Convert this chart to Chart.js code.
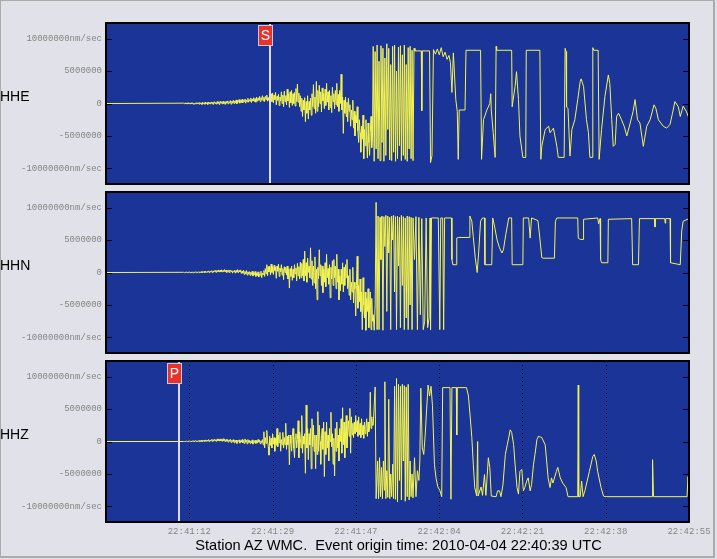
<!DOCTYPE html>
<html>
<head>
<meta charset="utf-8">
<script src="https://cdn.jsdelivr.net/npm/chart.js@4.4.1/dist/chart.umd.min.js"></script>
<style>
  html, body { margin: 0; padding: 0; background: #e1e1e9; }
  #page { position: relative; width: 717px; height: 559px; background: #e1e1e9; overflow: hidden; }
  #frame { position: absolute; left: 0; top: 0; width: 715px; height: 558px; box-sizing: border-box;
           border-top: 1px solid #ababab; border-left: 1px solid #ababab;
           border-right: 2px solid #ababab; border-bottom: 2px solid #ababab; }
  canvas { position: absolute; left: 0; }
  .chan { position: absolute; left: 0; font: 14px "Liberation Sans", Arial, sans-serif; color: #000; }
  #title { position: absolute; left: 0; width: 797px; top: 537px; text-align: center;
           font: 14.6px "Liberation Sans", Arial, sans-serif; color: #000; white-space: pre; }
</style>
</head>
<body>
<div id="page">
  <div id="frame"></div>
  <canvas id="cHHE" width="717" height="173" style="top:17px"></canvas>
  <canvas id="cHHN" width="717" height="173" style="top:186px"></canvas>
  <canvas id="cHHZ" width="717" height="183" style="top:355px"></canvas>
  <div class="chan" style="top:88px">HHE</div>
  <div class="chan" style="top:257px">HHN</div>
  <div class="chan" style="top:426px">HHZ</div>
  <div id="title">Station AZ WMC.  Event origin time: 2010-04-04 22:40:39 UTC</div>
</div>
<script>
// time in seconds after 22:40:55, amplitude in millions of nm/sec
var channels = ['HHE', 'HHN', 'HHZ'];
var yTickValues = [-10, -5, 0, 5, 10];
var yTickLabels = ['-10000000nm/sec', '-5000000', '0', '5000000', '10000000nm/sec'];
var xTickValues = [120 / 7, 240 / 7, 360 / 7, 480 / 7, 600 / 7, 720 / 7, 120];
var xTickLabels = ['22:41:12', '22:41:29', '22:41:47', '22:42:04', '22:42:21', '22:42:38', '22:42:55'];
var picks = { HHE: [{ name: 'S', t: 33.8 }], HHN: [], HHZ: [{ name: 'P', t: 15.0 }] };

// early part of each trace: samples every 0.15 s from 16 s (flat zero before that)
var noiseStart = 16;
var noiseStep = 0.15;

var hheNoise = [
  0.05,-0.05,0.1,-0.08,0.06,-0.1,0.12,-0.04,0.08,-0.1,
  0.1,-0.06,0.12,-0.1,0.05,-0.12,0.1,-0.05,0.14,-0.08,
  0.12,-0.1,0.15,-0.05,0.1,-0.15,0.18,-0.02,0.12,-0.12,
  0.2,-0.05,0.15,-0.15,0.22,0.0,0.18,-0.1,0.25,-0.05,
  0.2,-0.15,0.28,0.02,0.15,-0.12,0.3,0.0,0.22,-0.18,
  0.32,0.05,0.2,-0.1,0.35,0.0,0.25,-0.15,0.3,0.05,
  0.4,-0.05,0.3,0.1,0.45,-0.1,0.35,0.05,0.5,0.0,
  0.4,0.1,0.55,-0.05,0.45,0.2,0.6,0.05,0.5,0.15,
  0.65,0.1,0.5,0.3,0.7,0.05,0.55,0.25,0.8,0.2,
  0.6,0.35,0.85,0.15,0.7,0.4,0.9,0.3,0.75,0.2,
  1.0,0.35,0.8,0.5,1.1,0.3,0.9,0.55,1.2,0.4,
  0.95,0.3,1.1,0.6,1.3,0.35,0.9,0.5,1.2,0.2,
  1.5,0.3,1.6,0.1,1.3,0.6,1.7,-0.2,1.1,0.5,
  1.4,-0.3,1.0,0.4,1.8,0.0,1.3,-0.5,1.9,0.3,
  1.2,-0.2,2.2,0.4,1.5,-0.6,1.8,0.1,2.0,-0.3,
  1.5,0.0,1.7,-0.4,2.3,0.3,3.0,0.2,1.6,-0.5,
  1.2,-1.2,0.8,-2.0,0.5,-1.0,0.9,-2.8,0.3,-1.5,
  1.2,-2.4,0.3,-1.0,0.8,-1.8,1.5,-0.5,2.9,-0.8,
  1.0,-1.5,3.4,-1.2,2.0,-0.5,2.8,0.0,1.8,-1.3,
  2.4,0.4,1.5,-0.8,2.2,-0.3,3.1,0.2,1.8,-1.0,
  2.0,-0.6,1.2,-1.4,2.5,0.3,1.5,-0.8,2.0,-0.2,
  3.1,-0.5,1.4,-1.2,2.0,0.0,4.5,-1.0,1.0,-4.6,
  0.5,-1.5,1.0,-2.0,0.2,-2.8,0.8,-1.2,-0.2,-3.5,
  -1.0,-2.5,0.5,-3.8,-1.2,-5.0,-1.8,-3.0,-0.5,-4.2,
  -6.0,-2.5,-4.5,-7.5,-3.5,-5.5,-1.8,-8.5,-4.0,-6.5,
  -2.5,-5.5,-8.4,-3.0,-6.0,-8.0,-4.5,-2.0,-6.8,-5.0];

var hhnNoise = [
  0.03,-0.03,0.05,-0.02,0.06,-0.04,0.08,0.0,0.06,-0.05,
  0.08,-0.02,0.1,-0.05,0.08,0.0,0.12,-0.04,0.1,-0.02,
  0.12,-0.03,0.1,0.0,0.15,-0.05,0.12,0.02,0.18,-0.03,
  0.2,0.0,0.15,0.05,0.25,-0.02,0.2,0.08,0.28,0.0,
  0.25,0.05,0.3,0.1,0.35,0.0,0.28,0.12,0.4,0.05,
  0.35,0.1,0.42,0.05,0.3,0.15,0.45,0.1,0.35,0.0,
  0.3,0.1,0.4,-0.05,0.35,0.15,0.3,-0.1,0.25,0.1,
  0.35,-0.1,0.3,0.05,0.45,-0.05,0.3,0.1,0.4,-0.15,
  0.2,-0.1,0.35,-0.3,0.15,-0.2,0.3,-0.4,0.1,-0.25,
  0.15,-0.45,0.05,-0.3,0.2,-0.55,0.0,-0.35,0.15,-0.6,
  -0.1,-0.5,0.1,-0.7,-0.2,-0.4,0.2,-0.8,-0.1,-0.3,
  0.3,-0.6,0.6,-0.2,1.2,-0.5,0.9,0.1,1.0,-0.4,
  1.3,0.0,0.9,-0.3,1.1,0.3,0.8,-0.9,1.0,0.2,
  1.3,-0.6,0.7,0.1,1.2,-0.4,0.6,-1.1,0.9,0.0,
  0.8,-0.4,1.0,-1.0,0.5,-2.4,0.6,-0.6,1.0,-1.2,
  0.5,-0.8,1.2,-0.2,0.7,-1.3,1.4,-0.5,0.9,-1.0,
  1.6,-0.8,1.4,-0.5,2.0,-1.3,3.3,-0.5,1.5,-1.5,
  2.2,0.0,1.0,-0.8,3.8,-1.0,1.8,-2.0,1.0,-1.6,
  2.4,-2.5,0.5,-4.2,0.8,-1.0,3.5,-0.5,1.2,-2.0,
  1.0,-3.1,0.5,-1.5,1.5,-2.2,2.8,-0.8,0.6,-1.8,
  1.2,-3.9,0.8,-1.0,1.8,-2.0,2.0,-0.8,1.0,-2.5,
  2.8,-1.5,0.5,-4.2,-0.5,-2.8,0.5,-1.8,1.5,-3.0,
  0.8,-2.0,1.2,-0.8,2.0,-2.5,-0.5,-3.5,0.5,-4.2,
  -1.5,-3.0,0.8,-4.7,-1.5,-2.5,-6.7,-2.0,2.5,-5.5,
  -2.0,-4.5,-1.0,-6.0,-3.0,-8.8,-0.8,-5.0,-7.0,-3.0,
  -8.9,-4.0,-6.0,-2.5,-8.5,-5.0,-3.0,-8.8,-4.0,-7.5];

var hhzNoise = [
  0.0,0.0,0.0,0.0,0.05,-0.03,0.08,-0.02,0.1,0.0,
  0.08,-0.04,0.1,0.0,0.12,-0.05,0.15,0.0,0.1,-0.05,
  0.15,-0.02,0.18,0.0,0.2,-0.05,0.15,0.05,0.22,0.0,
  0.25,0.02,0.2,0.05,0.3,0.0,0.22,0.08,0.32,0.02,
  0.3,0.05,0.35,0.1,0.28,0.0,0.4,0.1,0.35,0.05,
  0.4,0.1,0.3,0.0,0.42,0.12,0.35,-0.05,0.3,0.05,
  0.3,-0.1,0.25,0.05,0.35,-0.15,0.2,0.0,0.3,-0.2,
  0.25,-0.1,0.2,-0.3,0.15,0.0,0.25,-0.25,0.1,-0.1,
  0.3,-0.2,0.15,-0.3,0.4,-0.1,0.2,-0.35,0.3,-0.15,
  0.2,-0.3,0.1,-0.2,0.25,-0.4,0.05,-0.15,0.2,-0.3,
  0.15,-0.25,0.3,-0.1,0.2,-0.35,0.1,-0.2,0.3,-0.5,
  1.5,-1.0,0.6,-0.3,1.7,0.2,-0.8,-2.1,0.8,-0.6,
  0.5,-1.0,1.2,-0.4,0.6,-1.5,0.5,-0.6,2.0,-0.8,
  1.0,-0.2,1.4,-1.5,0.3,-0.5,1.4,-1.0,0.6,-0.5,
  2.8,-1.2,0.8,-0.5,1.0,-3.6,1.0,-0.3,-1.5,0.8,
  2.0,-1.0,-2.5,0.6,1.2,-1.0,0.3,3.2,-2.5,1.5,
  0.5,-1.0,4.0,-1.8,0.8,-0.4,1.2,-4.9,5.6,-1.0,
  2.0,-2.8,1.2,-0.5,2.0,-4.2,3.5,-0.8,2.5,-1.5,
  1.0,-4.2,1.0,-2.0,4.6,-1.5,2.5,0.0,-3.5,0.5,
  2.0,-1.2,3.0,-5.4,1.5,-2.0,3.0,-1.0,1.0,-3.0,
  2.0,0.0,4.5,-0.8,1.2,-3.5,0.5,-5.3,2.0,-1.5,
  3.0,-1.0,1.0,-3.0,2.0,0.0,3.5,-1.8,5.2,-0.5,
  3.0,-2.5,1.0,4.0,-1.0,1.5,3.2,0.8,5.1,-1.8,
  3.8,1.0,2.8,0.6,3.0,1.2,4.0,1.5,3.2,0.8,
  3.8,1.0,2.8,0.6,3.5,1.0,2.5,0.5,3.0,1.2,
  2.0,3.5,0.8,3.0,1.5,2.2,7.6,2.0,3.8,2.5];

// later part of each trace as [time, value] pairs (clipped and long-period motion)
var hheTail = [[55.0,8.8],[55.2,-8.9],[55.4,8.0],[55.6,-7.0],[55.8,9.0],[56.0,-8.5],[56.2,6.5],[56.4,-8.8],[56.6,8.9],[56.8,-6.0],
  [57.0,8.5],[57.2,-8.9],[57.4,7.0],[57.6,-8.0],[57.8,9.2],[58.0,-4.0],[58.2,8.5],[58.4,-8.7],[58.6,6.0],[58.8,-8.8],[59.0,8.8],
  [59.2,-7.5],[59.4,9.0],[59.6,-8.9],[59.8,5.0],[60.0,-8.5],[60.2,8.7],[60.4,-6.5],[60.6,8.9],[60.8,-8.8],[61.0,7.5],[61.2,-8.0],
  [61.4,9.0],[61.6,-8.6],[61.8,6.0],[62.0,-8.9],[62.2,8.6],[62.4,-7.0],[62.6,8.8],[62.8,-8.5],[63.0,8.2],[63.2,-8.8],[63.4,8.5],
  [63.6,8.1],[64.9,8.1],[65.0,-1.1],[65.1,8.1],[66.6,8.1],[66.8,-9.1],[67.1,-8.0],[67.4,8.3],[67.8,7.6],[68.2,8.4],[68.6,7.5],
  [69.0,8.6],[69.4,7.2],[69.8,7.9],[70.2,6.8],[70.6,7.4],[70.9,6.3],[71.2,1.7],[71.5,7.8],[72.0,0.6],[72.3,-1.2],[72.5,-8.6],
  [72.7,-1.0],[73.9,-1.0],[74.1,8.2],[77.1,8.2],[77.3,-8.6],[77.7,-2.5],[78.4,-1.0],[79.0,0.0],[79.2,1.5],[79.3,-1.0],[79.7,-4.5],
  [80.1,-8.3],[80.3,8.8],[80.4,8.2],[83.5,8.2],[83.6,-0.5],[84.2,2.6],[84.5,4.9],[84.9,0.6],[85.2,-5.0],[85.8,-8.3],[86.4,-8.3],
  [86.5,8.2],[89.3,8.2],[89.5,-8.6],[89.7,-6.6],[90.4,-4.0],[91.1,-3.5],[91.4,-4.5],[92.1,-3.8],[92.8,-6.6],[93.1,-8.3],[94.3,-8.3],
  [94.5,8.5],[94.7,8.0],[94.8,-0.5],[95.1,-0.8],[95.5,-8.1],[95.9,-4.0],[96.5,-2.5],[97.1,0.6],[97.6,3.4],[97.8,3.8],[98.3,2.6],
  [98.9,-2.5],[99.3,-4.5],[99.6,-8.3],[100.1,-8.3],[100.2,8.6],[100.4,8.2],[101.3,8.2],[101.5,-8.6],[102.0,-4.0],[102.7,1.1],
  [103.4,4.4],[103.7,3.1],[104.1,-2.5],[104.4,-6.6],[104.8,-6.3],[105.1,-2.0],[105.5,-1.5],[106.1,-2.5],[106.7,-3.6],[107.2,-5.0],
  [107.9,-3.0],[108.5,-1.2],[108.9,0.6],[109.4,-2.5],[109.9,-3.0],[110.6,-6.6],[111.3,-3.5],[112.0,-2.5],[112.8,-0.2],[113.2,-0.8],
  [113.7,-2.5],[114.2,-3.0],[114.7,-3.5],[115.4,-3.8],[116.1,-3.2],[116.6,-1.5],[117.1,0.3],[117.8,-0.5],[118.2,-2.0],[118.8,-0.4],
  [119.5,-1.3],[120,-2.3]];

var hhnTail = [[55.0,-6.5],[55.2,-8.9],[55.4,-5.0],[55.6,10.8],[55.8,-8.8],[56.0,8.7],[56.2,-8.8],[56.4,8.5],[56.6,2.0],[56.8,8.7],
  [57.0,-8.9],[57.2,8.6],[57.4,4.0],[57.6,8.8],[57.8,-6.0],[58.0,8.7],[58.2,3.0],[58.4,8.5],[58.6,-8.8],[58.8,8.7],[59.0,5.0],
  [59.2,8.8],[59.4,-3.0],[59.6,8.6],[59.8,-8.8],[60.0,8.7],[60.2,1.0],[60.4,8.5],[60.6,-8.5],[60.8,8.8],[61.0,-2.0],[61.2,8.6],
  [61.4,-8.8],[61.6,8.4],[61.8,-7.0],[62.0,8.7],[62.2,-8.8],[62.4,8.6],[62.6,-5.0],[62.8,8.5],[63.0,-8.8],[63.2,8.4],[63.5,2.0],
  [63.8,8.6],[64.1,-8.8],[64.4,8.5],[64.7,-6.5],[65.0,8.3],[65.3,-8.8],[65.6,-7.5],[65.9,8.4],[66.2,-8.5],[66.5,-7.0],[66.7,8.4],
  [66.8,-8.8],[67.0,8.4],[68.4,8.4],[68.7,-8.8],[68.9,8.4],[69.3,8.4],[69.5,-8.8],[69.7,8.4],[71.1,8.4],[71.2,2.0],[71.4,1.2],
  [72.1,1.2],[72.2,5.3],[72.5,5.4],[74.8,5.4],[74.9,8.7],[75.3,7.9],[75.6,5.5],[76.0,2.3],[76.4,0.0],[76.7,3.0],[77.1,7.9],
  [77.5,8.4],[77.9,8.4],[78.0,1.2],[79.4,1.2],[79.6,8.4],[80.0,7.0],[80.5,5.0],[81.0,3.8],[81.5,3.0],[81.8,3.5],[82.3,5.9],
  [82.9,8.4],[83.5,8.4],[83.6,1.2],[85.8,1.2],[85.9,8.4],[87.0,8.4],[87.3,5.3],[87.6,8.4],[88.9,8.0],[89.3,5.3],[89.7,2.3],
  [90.0,2.2],[92.3,2.2],[92.5,7.9],[92.8,8.4],[97.1,8.4],[97.2,5.3],[97.6,5.1],[98.2,5.1],[98.3,8.2],[101.2,8.4],[101.4,7.5],
  [101.7,8.3],[101.8,2.0],[102.0,1.5],[103.3,1.5],[103.4,8.2],[108.2,8.3],[108.4,1.2],[109.6,1.2],[109.8,8.3],[112.9,8.3],
  [113.0,7.0],[113.1,8.3],[115.0,8.3],[115.1,7.6],[115.2,8.3],[116.1,8.3],[116.2,1.5],[118.2,1.2],[118.5,6.4],[118.8,7.9],[120,8.3]];

var hhzTail = [[55.0,2.5],[55.4,8.4],[55.6,-8.8],[55.9,-3.0],[56.1,-8.8],[56.3,-2.5],[56.5,-8.5],[56.7,-4.0],[56.9,-8.8],[57.1,-3.0],
  [57.3,-7.5],[57.4,9.2],[57.6,-8.8],[57.8,-4.5],[58.0,-8.6],[58.2,6.5],[58.4,-8.8],[58.6,-5.0],[58.8,-8.5],[59.0,-3.5],[59.2,-8.8],
  [59.4,8.5],[59.6,-8.9],[59.8,9.7],[60.0,-9.3],[60.2,8.8],[60.4,-6.0],[60.6,8.5],[60.8,-9.0],[61.0,8.8],[61.2,-3.0],[61.4,8.6],
  [61.6,-9.2],[61.8,8.4],[62.0,-8.5],[62.2,8.8],[62.4,-9.0],[62.6,-3.0],[62.8,-8.5],[63.0,-5.0],[63.2,-8.7],[63.5,-2.5],[63.8,-8.5],
  [64.1,-4.5],[64.4,-6.0],[64.6,-3.0],[64.8,8.2],[65.1,-1.0],[65.4,-2.0],[65.7,1.0],[66.0,5.0],[66.3,8.7],[66.6,7.0],[66.9,8.5],
  [67.2,5.5],[67.6,-3.5],[67.9,-5.5],[68.3,-7.0],[68.7,-7.5],[69.1,-8.5],[69.3,8.3],[70.8,8.3],[71.0,-8.9],[71.2,8.3],[72.1,8.3],
  [72.2,1.0],[72.3,8.3],[74.2,8.3],[74.6,7.0],[74.9,4.4],[75.3,0.6],[75.6,-3.5],[75.9,-7.1],[76.3,-8.4],[76.5,0.0],[76.6,-8.4],
  [77.2,-7.0],[77.5,-8.3],[77.9,-5.1],[78.2,-8.3],[78.7,-2.5],[79.0,-4.0],[79.3,-8.4],[80.3,-8.5],[80.6,-7.6],[81.0,-7.6],[81.3,-8.5],
  [81.7,-6.7],[82.2,-2.0],[82.6,-0.5],[82.9,0.6],[83.2,1.8],[83.5,1.4],[83.9,-0.5],[84.2,-3.5],[84.6,-7.1],[84.9,-8.1],[85.2,-4.6],
  [85.6,-4.3],[85.9,-7.6],[86.2,-7.1],[86.6,-6.1],[86.9,-5.6],[87.3,-7.6],[87.6,-6.6],[88.0,-3.5],[88.3,-2.0],[88.7,0.3],[89.0,0.8],
  [89.7,0.6],[90.4,-0.5],[90.7,-3.0],[91.0,-5.6],[91.4,-7.1],[91.7,-5.6],[92.0,-6.4],[92.7,-4.6],[93.0,-4.0],[93.5,-5.6],[94.0,-6.4],
  [94.7,-7.1],[95.1,-8.5],[97.1,-8.5],[97.2,8.7],[97.3,-8.5],[97.6,-8.5],[97.9,-6.1],[98.2,-8.5],[98.6,-7.5],[99.5,-4.6],[100.2,-2.3],
  [100.5,-2.0],[100.9,-3.0],[101.2,-4.6],[101.9,-7.1],[102.4,-8.4],[102.7,-8.5],[112.4,-8.5],[112.5,-2.8],[112.7,-8.5],[119.6,-8.5],
  [119.8,-5.4],[120,-8.5]];

var noise = { HHE: hheNoise, HHN: hhnNoise, HHZ: hhzNoise };
var tails = { HHE: hheTail, HHN: hhnTail, HHZ: hhzTail };

function tracePoints(ch) {
  var pts = [{ x: 0, y: 0 }];
  noise[ch].forEach(function (v, i) { pts.push({ x: noiseStart + i * noiseStep, y: v }); });
  tails[ch].forEach(function (p) { pts.push({ x: p[0], y: p[1] }); });
  return pts;
}

// blue plot area, frame, inner tick marks, dotted time lines and phase picks
var seisPlugin = {
  id: 'seis',
  beforeDatasetsDraw: function (chart) {
    var a = chart.chartArea, ctx = chart.ctx;
    ctx.save();
    ctx.fillStyle = '#1b3497';
    ctx.fillRect(a.left, a.top, a.right - a.left, a.bottom - a.top);
    if (chart.options.plugins.seis.timeLines) {
      var xs = chart.scales.x;
      ctx.strokeStyle = '#000';
      ctx.lineWidth = 1;
      ctx.setLineDash([1, 3]);
      xTickValues.forEach(function (v) {
        if (v >= xs.max) return;
        var px = Math.round(xs.getPixelForValue(v)) + 0.5;
        ctx.beginPath(); ctx.moveTo(px, a.top); ctx.lineTo(px, a.bottom); ctx.stroke();
      });
    }
    ctx.restore();
  },
  afterDatasetsDraw: function (chart) {
    var a = chart.chartArea, ctx = chart.ctx;
    var xs = chart.scales.x, ys = chart.scales.y;
    ctx.save();
    ctx.strokeStyle = '#000';
    ctx.lineWidth = 1;
    yTickValues.forEach(function (v) {
      var py = Math.round(ys.getPixelForValue(v)) + 0.5;
      ctx.beginPath();
      ctx.moveTo(a.left, py); ctx.lineTo(a.left + 6, py);
      ctx.moveTo(a.right - 6, py); ctx.lineTo(a.right, py);
      ctx.stroke();
    });
    (chart.options.plugins.seis.picks || []).forEach(function (p) {
      var px = Math.round(xs.getPixelForValue(p.t));
      ctx.fillStyle = '#dcdcec';
      ctx.fillRect(px - 1, a.top, 2, a.bottom - a.top);
      ctx.fillStyle = '#e8332a';
      ctx.fillRect(px - 12, a.top + 2, 15, 21);
      ctx.strokeStyle = '#c8c8d8';
      ctx.strokeRect(px - 11.5, a.top + 2.5, 14, 20);
      ctx.fillStyle = '#fff';
      ctx.font = '14px "Liberation Sans", Arial, sans-serif';
      ctx.textAlign = 'center';
      ctx.textBaseline = 'middle';
      ctx.fillText(p.name, px - 4.5, a.top + 13);
    });
    ctx.lineWidth = 2;
    ctx.strokeStyle = '#000';
    ctx.strokeRect(a.left, a.top, a.right - a.left, a.bottom - a.top);
    ctx.restore();
  }
};

var tickFont = { family: '"Liberation Mono", "Courier New", monospace', size: 9 };

channels.forEach(function (ch, i) {
  var bottom = (i === channels.length - 1);
  new Chart(document.getElementById('c' + ch), {
    type: 'line',
    data: {
      datasets: [{
        label: ch,
        data: tracePoints(ch),
        borderColor: '#f4f450',
        borderWidth: 1,
        borderJoinStyle: 'round',
        pointRadius: 0,
        tension: 0,
        fill: false
      }]
    },
    options: {
      responsive: false,
      animation: false,
      events: [],
      layout: { autoPadding: false, padding: { left: 0, right: 28, top: 6, bottom: bottom ? 0 : 6 } },
      plugins: {
        legend: { display: false },
        tooltip: { enabled: false },
        seis: { picks: picks[ch], timeLines: bottom }
      },
      scales: {
        x: {
          type: 'linear',
          min: 0,
          max: 120,
          display: bottom,
          grid: { display: false, drawTicks: false },
          border: { display: false },
          afterBuildTicks: function (s) { s.ticks = xTickValues.map(function (v) { return { value: v }; }); },
          afterFit: function (s) {
            s.height = bottom ? 16 : 0;
            s.paddingLeft = 0; s.paddingRight = 0;
          },
          ticks: {
            autoSkip: false,
            maxRotation: 0,
            padding: 4,
            color: '#858585',
            font: tickFont,
            callback: function (v, idx) { return xTickLabels[idx]; }
          }
        },
        y: {
          min: -12.4,
          max: 12.4,
          grid: { display: false, drawTicks: false },
          border: { display: false },
          afterBuildTicks: function (s) { s.ticks = yTickValues.map(function (v) { return { value: v }; }); },
          afterFit: function (s) {
            s.width = 106;
            s.paddingTop = 0; s.paddingBottom = 0;
          },
          ticks: {
            autoSkip: false,
            padding: 4,
            color: '#858585',
            font: tickFont,
            callback: function (v, idx) { return yTickLabels[idx]; }
          }
        }
      }
    },
    plugins: [seisPlugin]
  });
});
</script>
</body>
</html>
